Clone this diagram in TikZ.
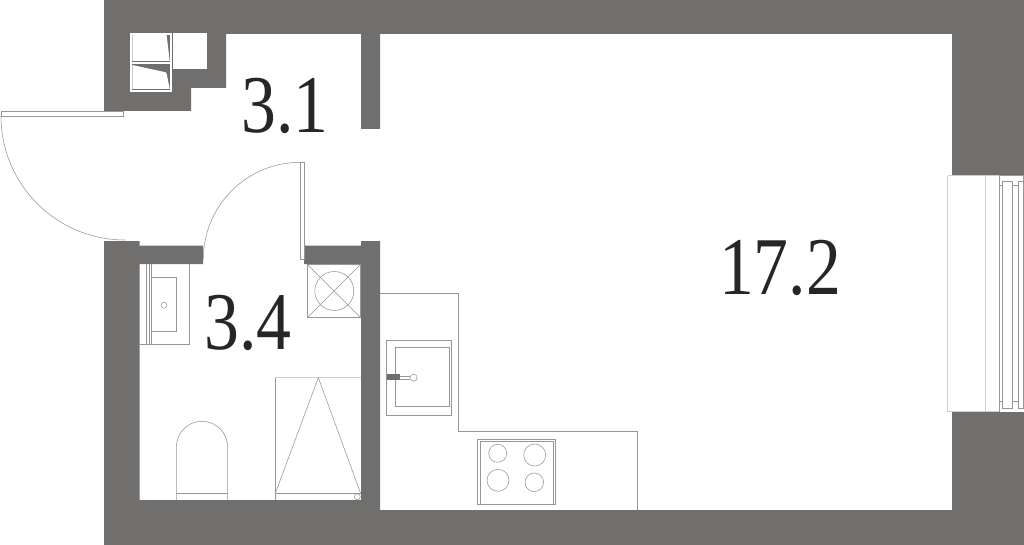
\documentclass[tikz,border=0pt]{standalone}
\usepackage{fontspec}
\setmainfont{Liberation Serif}
\newfontfamily\areafont[FakeStretch=0.85]{Liberation Serif}
\definecolor{wallgray}{HTML}{706F6E}
\definecolor{linegray}{HTML}{969694}
\definecolor{palegray}{HTML}{CFCFCD}
\definecolor{inkgray}{HTML}{262626}
\tikzset{
  wall/.style={fill=wallgray,draw=none},
  fixture/.style={draw=linegray,line width=0.75pt,fill=none},
  fine/.style={draw=linegray,line width=0.55pt,fill=none},
  pale/.style={draw=palegray,line width=1.1pt},
  cell/.style={fill=white,draw=none},
  frameline/.style={draw=white,line width=1.6pt},
  area/.style={font=\areafont\fontsize{82}{82}\selectfont,text=inkgray,inner sep=0pt,anchor=base}
}
\begin{document}
\begin{tikzpicture}[x=1pt,y=-1pt]
\useasboundingbox (0,0) rectangle (1024,545);
\fill[white] (0,0) rectangle (1024,545);

% door swings (under the walls)
\draw[fine] (1,116) .. controls (1,184.5) and (56.5,240) .. (125,240);
\draw[fine] (300.3,162.3) .. controls (246.7,162.3) and (203.3,205.7) .. (203.3,259.3);

% walls
\path[wall] (104,0) -- (1024,0) -- (1024,176) -- (952,176) -- (952,34) -- (380,34) -- (380,129) -- (361,129) -- (361,34) -- (226,34) -- (226,88) -- (191,88) -- (191,111) -- (104,111) -- cycle;
\path[wall] (104,241) -- (139.5,241) -- (139.5,245.7) -- (203,245.7) -- (203,264) -- (139.5,264) -- (139.5,500) -- (361,500) -- (361,264) -- (304,264) -- (304,245.7) -- (361,245.7) -- (361,241) -- (380,241) -- (380,510) -- (952,510) -- (952,412) -- (1024,412) -- (1024,545) -- (104,545) -- cycle;

% door leaves
\draw[fine] (1,111) rectangle (123.5,116);
\draw[fine] (300.3,162.3) rectangle (304.3,259.3);

% service shaft
\draw[frameline] (130.8,33.8) rectangle (171,91);
\draw[frameline] (130.8,63) -- (171,63);
\fill[cell] (132.3,34) -- (165,34) -- (166.7,35.7) -- (169.7,61) -- (132.3,61) -- cycle;
\fill[cell] (132.3,65) -- (165.7,72.3) -- (166.7,74) -- (169.7,89) -- (132.3,89) -- cycle;
\fill[cell] (173.3,33.5) rectangle (206.7,69);

% vanity
\draw[fixture] (139.5,344.3) -- (189.3,344.3) -- (189.3,264.3);
\draw[fine] (146.7,264.3) -- (146.7,344.3);
\draw[fine] (149,264.3) -- (149,344.3);
\draw[fine] (151.7,264.3) -- (151.7,344.3);
\draw[fine] (151.7,277.3) rectangle (176.3,331.7);
\draw[fine] (164,305.3) circle[radius=3];

% floor drain / washer box
\draw[fine] (307.3,264.3) rectangle (360.7,317.7);
\draw[fine] (307.3,264.3) -- (360.7,317.7);
\draw[fine] (360.7,264.3) -- (307.3,317.7);
\draw[fine] (334.3,291) circle[radius=19.5];

% shower
\draw[fine] (275.3,500) -- (275.3,377.7);
\draw[pale] (275.3,377.7) -- (360.7,377.7);
\draw[fine] (275.3,493.5) -- (318.3,377.7) -- (360.7,493.5);
\draw[fine] (275.3,493.5) -- (360.7,493.5);
\draw[fine] (357.3,496.7) circle[radius=3];

% toilet
\draw[fine] (176.3,500) -- (176.3,447.3) .. controls (176.3,432.9) and (187.8,421.3) .. (202,421.3) .. controls (216.2,421.3) and (227.7,432.9) .. (227.7,447.3) -- (227.7,500);
\draw[fixture] (176.3,493.3) -- (227.7,493.3);

% kitchen counter
\draw[fixture] (380,293) -- (458.3,293) -- (458.3,431) -- (637.3,431) -- (637.3,510);

% kitchen sink
\draw[fine] (386.7,340) rectangle (451.7,415.3);
\draw[fine] (395,347.3) rectangle (449.3,406.7);
\fill[wallgray] (386.7,374.3) rectangle (400,380.3);
\draw[fine] (400,376.2) -- (410,376.2);
\draw[fine] (400,379) -- (410,379);
\draw[fine] (413.7,377.7) circle[radius=3.5];

% hob
\draw[fine] (477.7,439) rectangle (555.7,504);
\draw[fixture] (480.3,441) rectangle (553.7,504);
\draw[fine] (497.7,453.3) circle[radius=9];
\draw[fine] (534.7,455) circle[radius=11];
\draw[fine] (498,480.3) circle[radius=11];
\draw[fine] (534.3,482.3) circle[radius=9.3];

% window
\draw[pale] (947.7,411.7) -- (947.7,175.7);
\draw[pale] (985.7,175.7) -- (985.7,411.7);
\draw[pale] (947.7,411.7) -- (999.3,411.7);
\draw[pale] (947.7,175.7) -- (999.3,175.7);
\draw[fine] (999.3,175.7) -- (1023.6,175.7) -- (1023.6,408.7) -- (1018.3,408.7) -- (1018.3,181.3) -- (1023.6,181.3);
\draw[fine] (999.3,175.7) -- (999.3,411.7);
\draw[fine] (1002,181.3) rectangle (1012.7,408.7);
\draw[fine] (999.3,185) -- (1002,185);
\draw[fine] (999.3,401.7) -- (1002,401.7);
\draw[fine] (1012.7,185.3) -- (1018.3,185.3);
\draw[fine] (1012.7,401.7) -- (1018.3,401.7);

% room areas
\node[area] (areaHall) at (285,132.5) {3.1};
\node[area] (areaBath) at (248,349) {3.4};
\node[area] (areaMain) at (780,294) {17.2};
\end{tikzpicture}
\end{document}
